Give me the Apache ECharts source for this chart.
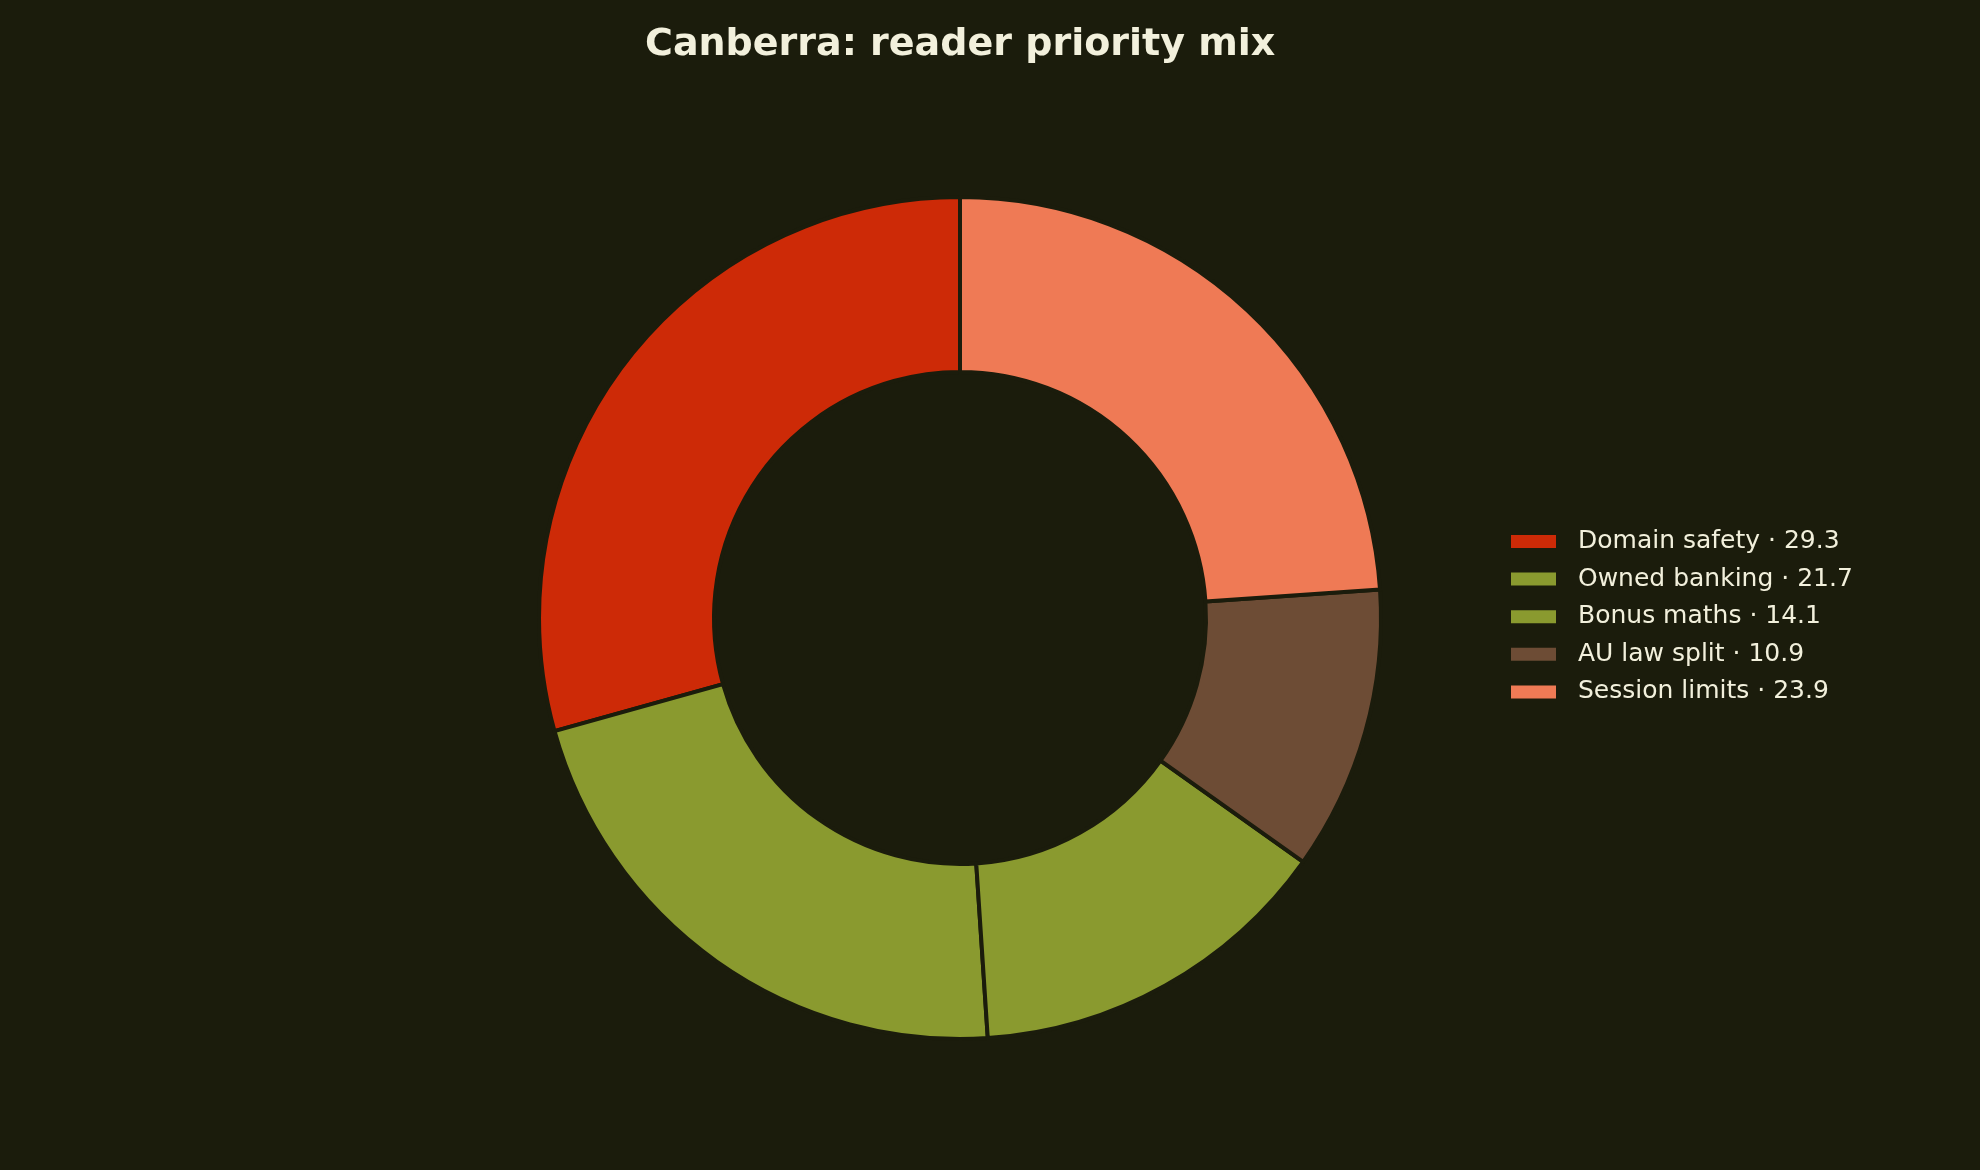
<!DOCTYPE html>
<html><head><meta charset="utf-8">
<script src="https://cdn.jsdelivr.net/npm/echarts@6/dist/echarts.min.js"></script>
<style>html,body{margin:0;padding:0;background:#1b1c0c;}#c{width:1980px;height:1170px;}</style>
</head><body><div id="c"></div>
<script>
const categories = ['Domain safety', 'Owned banking', 'Bonus maths', 'AU law split', 'Session limits'];
const values = [29.3, 21.7, 14.1, 10.9, 23.9];
const colors = ['#cd2a07', '#8a9a2f', '#8a9a2f', '#6d4c35', '#ef7a55'];
const titleText = 'Canberra: reader priority mix';

const chart = echarts.init(document.getElementById('c'), null, {renderer: 'canvas'});
const data = categories.map((n, i) => ({name: n, value: values[i], itemStyle: {color: colors[i]}}));
chart.setOption({
  backgroundColor: '#1b1c0c',
  animation: false,
  title: {
    text: titleText, left: 640, top: 21,
    textStyle: {color: '#f2f0dc', fontSize: 38, fontWeight: 'bold', fontFamily: 'DejaVu Sans'}
  },
  legend: {
    orient: 'vertical', left: 1506, top: 524,
    itemWidth: 45, itemHeight: 13, itemGap: 12.6,
    icon: 'rect',
    itemStyle: {borderWidth: 0},
    formatter: function (name) { return name + ' · ' + values[categories.indexOf(name)]; },
    textStyle: {color: '#f2f0dc', fontSize: 25, fontFamily: 'DejaVu Sans', padding: [0, 0, 0, 17]}
  },
  series: [{
    type: 'pie',
    center: [960, 618],
    radius: [246, 421],
    startAngle: 90,
    clockwise: false,
    label: {show: false},
    labelLine: {show: false},
    itemStyle: {borderColor: '#1b1c0c', borderWidth: 4},
    data: data
  }]
});
</script></body></html>
